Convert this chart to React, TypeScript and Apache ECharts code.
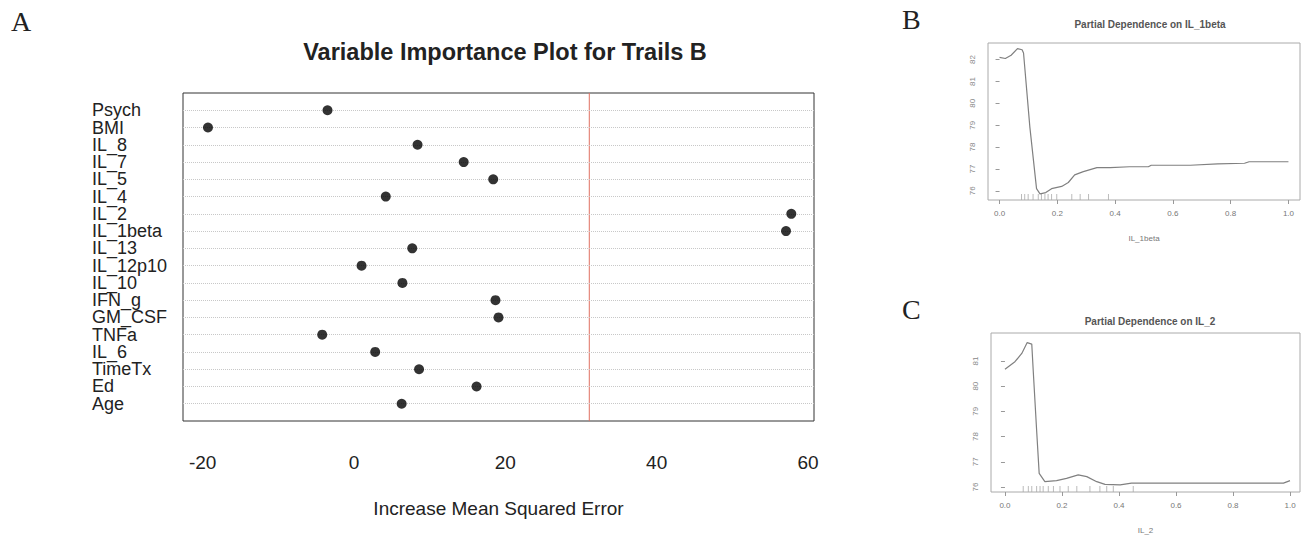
import React, { useEffect, useRef } from 'react';
import * as echarts from 'echarts';

// Panel A: variable importance (%IncMSE)
const variables = ['Psych', 'BMI', 'IL_8', 'IL_7', 'IL_5', 'IL_4', 'IL_2', 'IL_1beta', 'IL_13', 'IL_12p10', 'IL_10', 'IFN_g', 'GM_CSF', 'TNFa', 'IL_6', 'TimeTx', 'Ed', 'Age'];
const incMSE = [-3.5, -19.3, 8.4, 14.5, 18.4, 4.2, 57.8, 57.1, 7.7, 1.0, 6.4, 18.7, 19.1, -4.2, 2.8, 8.6, 16.2, 6.3];
const thresholdValue = 31.1;
const xTicksA = [-20, 0, 20, 40, 60];

// Panel B: partial dependence on IL_1beta
const bX = [0.0, 0.02, 0.04, 0.062, 0.078, 0.083, 0.105, 0.128, 0.14, 0.16, 0.18, 0.215, 0.238, 0.26, 0.29, 0.337, 0.383, 0.45, 0.515, 0.525, 0.66, 0.755, 0.848, 0.864, 1.0];
const bY = [82.1, 82.05, 82.2, 82.5, 82.45, 82.3, 78.9, 76.1, 75.86, 75.92, 76.1, 76.2, 76.38, 76.73, 76.88, 77.06, 77.06, 77.1, 77.1, 77.17, 77.17, 77.23, 77.26, 77.33, 77.33];
const bRug = [0.076, 0.087, 0.099, 0.116, 0.134, 0.145, 0.157, 0.168, 0.18, 0.198, 0.25, 0.279, 0.308, 0.377];
const bYTicks = [76, 77, 78, 79, 80, 81, 82];

// Panel C: partial dependence on IL_2
const cX = [0.0, 0.035, 0.059, 0.078, 0.094, 0.099, 0.111, 0.12, 0.14, 0.181, 0.216, 0.257, 0.287, 0.322, 0.351, 0.404, 0.444, 0.977, 1.0];
const cY = [80.67, 80.97, 81.3, 81.73, 81.67, 80.64, 78.26, 76.54, 76.21, 76.25, 76.34, 76.48, 76.41, 76.21, 76.1, 76.08, 76.15, 76.15, 76.25];
const cRug = [0.064, 0.082, 0.094, 0.111, 0.123, 0.134, 0.152, 0.17, 0.193, 0.222, 0.252, 0.298, 0.333, 0.357, 0.38, 0.45];
const cYTicks = [76, 77, 78, 79, 80, 81];

const pdXTicks = [0, 0.2, 0.4, 0.6, 0.8, 1.0];

const SANS = 'Liberation Sans, Arial, Helvetica, sans-serif';
const SERIF = 'Liberation Serif, Times New Roman, serif';

export default function App() {
  const ref = useRef<HTMLDivElement>(null);

  useEffect(() => {
    document.body.style.margin = '0';
    const chart = echarts.init(ref.current!, null, { renderer: 'svg' });
    const n = variables.length;
    // category axis bottom-to-top, padded with one empty slot at each end (dotchart ylim 0..n+1)
    const yCats = ['', ...variables.slice().reverse(), ' '];

    const bYMin = 75.58, bYMax = 82.76;
    const cYMin = 75.8, cYMax = 82.11;

    const smallAxisX = (gridIndex: number, name: string, min: number, max: number) => ({
      type: 'value',
      gridIndex,
      min,
      max,
      axisLine: { show: false },
      splitLine: { show: false },
      axisTick: { customValues: pdXTicks, length: 4, lineStyle: { color: '#999' } },
      axisLabel: {
        customValues: pdXTicks,
        formatter: (v: number) => v.toFixed(1),
        fontSize: 8,
        color: '#777',
        margin: 9,
        showMinLabel: true,
        showMaxLabel: true,
      },
      name,
      nameLocation: 'middle',
      nameGap: 34,
      nameTextStyle: { fontSize: 8, color: '#777' },
    });

    const smallAxisY = (gridIndex: number, ticks: number[], min: number, max: number) => ({
      type: 'value',
      gridIndex,
      min,
      max,
      axisLine: { show: false },
      splitLine: { show: false },
      axisTick: { customValues: ticks, length: 4, lineStyle: { color: '#999' } },
      axisLabel: {
        customValues: ticks,
        rotate: 90,
        fontSize: 8,
        color: '#888',
        margin: 12,
        showMinLabel: true,
        showMaxLabel: true,
      },
    });

    const option = {
      animation: false,
      textStyle: { fontFamily: SANS },
      title: [
        {
          text: 'Variable Importance Plot for Trails B',
          left: 500,
          top: 35,
          textAlign: 'center',
          textStyle: { fontSize: 23.5, fontWeight: 'bold', color: '#222', fontFamily: SANS },
        },
        {
          text: 'Partial Dependence on IL_1beta',
          left: 1145,
          top: 14,
          textAlign: 'center',
          textStyle: { fontSize: 10, fontWeight: 'bold', color: '#555', fontFamily: SANS },
        },
        {
          text: 'Partial Dependence on IL_2',
          left: 1145,
          top: 311,
          textAlign: 'center',
          textStyle: { fontSize: 10, fontWeight: 'bold', color: '#555', fontFamily: SANS },
        },
      ],
      graphic: [
        { type: 'text', left: 11, top: 7, style: { text: 'A', fontSize: 28, fontFamily: SERIF, fill: '#222' } },
        { type: 'text', left: 902, top: 5, style: { text: 'B', fontSize: 28, fontFamily: SERIF, fill: '#222' } },
        { type: 'text', left: 902, top: 295, style: { text: 'C', fontSize: 28, fontFamily: SERIF, fill: '#222' } },
      ],
      grid: [
        { left: 183, top: 93, width: 631, height: 328, show: true, borderColor: '#333', borderWidth: 1, containLabel: false },
        { left: 988, top: 43, width: 312, height: 157, show: true, borderColor: '#aaa', borderWidth: 1, containLabel: false },
        { left: 991, top: 333, width: 309, height: 159, show: true, borderColor: '#aaa', borderWidth: 1, containLabel: false },
      ],
      xAxis: [
        {
          type: 'value',
          gridIndex: 0,
          min: -22.6,
          max: 60.8,
          axisLine: { show: false },
          splitLine: { show: false },
          axisTick: { customValues: xTicksA, length: 7, lineStyle: { color: '#444' } },
          axisLabel: { customValues: xTicksA, fontSize: 19, color: '#222', margin: 32, showMinLabel: true, showMaxLabel: true },
          name: 'Increase Mean Squared Error',
          nameLocation: 'middle',
          nameGap: 78,
          nameTextStyle: { fontSize: 19, color: '#222' },
        },
        smallAxisX(1, 'IL_1beta', -0.04, 1.04),
        smallAxisX(2, 'IL_2', -0.049, 1.035),
      ],
      yAxis: [
        {
          type: 'category',
          gridIndex: 0,
          data: yCats,
          boundaryGap: false,
          axisLine: { show: false },
          axisTick: { show: false },
          splitLine: { show: false },
          axisLabel: {
            interval: 0,
            align: 'left',
            margin: 91,
            fontSize: 18,
            lineHeight: 14,
            color: '#222',
          },
        },
        smallAxisY(1, bYTicks, bYMin, bYMax),
        smallAxisY(2, cYTicks, cYMin, cYMax),
      ],
      series: [
        {
          type: 'scatter',
          xAxisIndex: 0,
          yAxisIndex: 0,
          data: variables.map((name, i) => [incMSE[i], name]),
          symbolSize: 10,
          itemStyle: { color: '#000' },
          z: 5,
          markLine: {
            silent: true,
            symbol: ['none', 'none'],
            label: { show: false },
            lineStyle: { type: 'dotted', color: '#c8c8c8', width: 1 },
            data: variables.map((name) => ({ yAxis: name })),
          },
        },
        {
          // reference (threshold) line across the full plot height
          type: 'line',
          xAxisIndex: 0,
          yAxisIndex: 0,
          data: [[thresholdValue, 0], [thresholdValue, n + 1]],
          showSymbol: false,
          silent: true,
          z: 4,
          color: '#e07060',
          lineStyle: { color: '#e07060', width: 1, type: 'solid' },
        },
        {
          type: 'line',
          xAxisIndex: 1,
          yAxisIndex: 1,
          data: bX.map((x, i) => [x, bY[i]]),
          showSymbol: false,
          lineStyle: { color: '#808080', width: 1.2 },
        },
        {
          type: 'scatter',
          xAxisIndex: 1,
          yAxisIndex: 1,
          data: bRug.map((x) => [x, bYMin]),
          symbol: 'rect',
          symbolSize: [1, 6],
          symbolOffset: [0, -3],
          itemStyle: { color: '#aaa' },
        },
        {
          type: 'line',
          xAxisIndex: 2,
          yAxisIndex: 2,
          data: cX.map((x, i) => [x, cY[i]]),
          showSymbol: false,
          lineStyle: { color: '#808080', width: 1.2 },
        },
        {
          type: 'scatter',
          xAxisIndex: 2,
          yAxisIndex: 2,
          data: cRug.map((x) => [x, cYMin]),
          symbol: 'rect',
          symbolSize: [1, 6],
          symbolOffset: [0, -3],
          itemStyle: { color: '#aaa' },
        },
      ],
    };

    chart.setOption(option as any);
    return () => chart.dispose();
  }, []);

  return <div ref={ref} style={{ width: 1313, height: 538 }} />;
}
